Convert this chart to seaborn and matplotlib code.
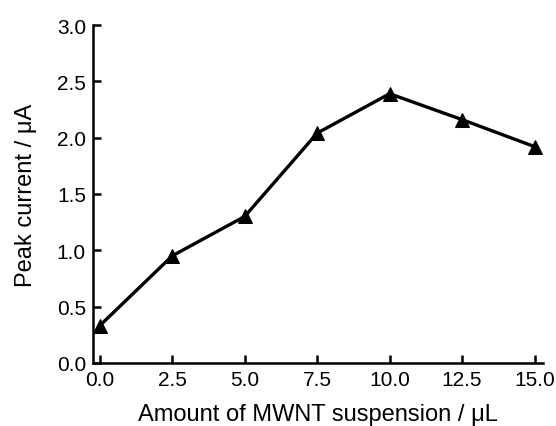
import pandas as pd
import matplotlib
matplotlib.use('Agg')
import matplotlib.pyplot as plt
import seaborn as sns

amount = [0.0, 2.5, 5.0, 7.5, 10.0, 12.5, 15.0]
current = [0.33, 0.95, 1.30, 2.04, 2.39, 2.16, 1.92]
x_ticks = [0.0, 2.5, 5.0, 7.5, 10.0, 12.5, 15.0]
y_ticks = [0.0, 0.5, 1.0, 1.5, 2.0, 2.5, 3.0]

df = pd.DataFrame({'amount': amount, 'current': current})

sns.set_style('ticks')
plt.rcParams['font.family'] = ['Liberation Sans', 'DejaVu Sans']
plt.rcParams['text.color'] = 'black'
plt.rcParams['axes.labelcolor'] = 'black'

fig = plt.figure(figsize=(5.56, 4.27), dpi=100)
ax = fig.add_axes([0.167, 0.148, 0.81, 0.791])
sns.lineplot(data=df, x='amount', y='current', ax=ax, color='black', linewidth=2.4,
             marker='^', markersize=10, markeredgecolor='black', markerfacecolor='black')

ax.set_xlim(-0.24, 15.3)
ax.set_ylim(0.0, 3.0)
ax.set_xticks(x_ticks)
ax.set_xticklabels([f'{v:.1f}' for v in x_ticks])
ax.set_yticks(y_ticks)
ax.set_yticklabels([f'{v:.1f}' for v in y_ticks])
ax.tick_params(direction='in', length=6, width=1.8, labelsize=15, colors='black', pad=5)
for side in ['left', 'bottom']:
    ax.spines[side].set_linewidth(1.8)
    ax.spines[side].set_color('black')
sns.despine(ax=ax)

ax.set_xlabel('Amount of MWNT suspension / \u03bcL', fontsize=17, labelpad=10)
ax.set_ylabel('Peak current / \u03bcA', fontsize=17, labelpad=14)

fig.savefig('out.png', dpi=100)
